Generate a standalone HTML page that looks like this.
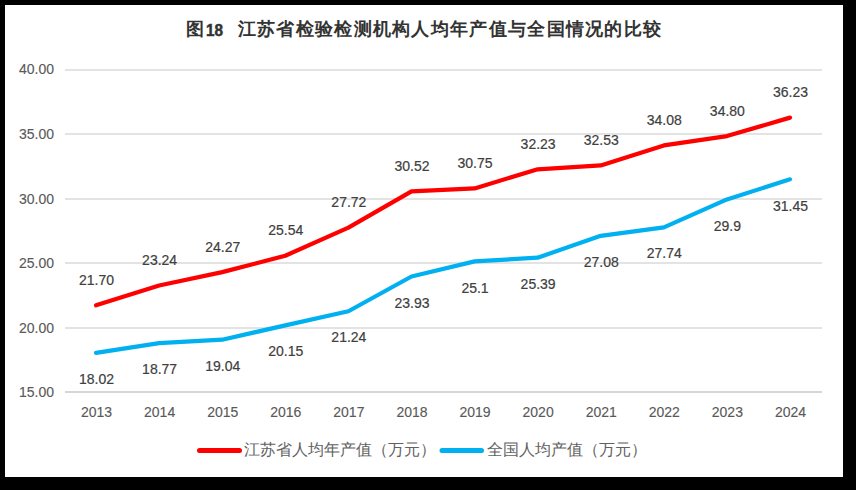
<!DOCTYPE html>
<html><head><meta charset="utf-8"><style>
html,body{margin:0;padding:0;background:#000;}
body{width:856px;height:490px;overflow:hidden;position:relative;}
#card{position:absolute;left:5px;top:5px;width:838px;height:472px;background:#fff;}
svg{position:absolute;left:0;top:0;}
.t{font-family:"Liberation Sans",sans-serif;font-size:14px;fill:#404040;stroke:#404040;stroke-width:0.2px;}
.ax{fill:#595959;stroke:#595959;stroke-width:0.12px;}
.lg{font-family:"Liberation Sans",sans-serif;font-size:16px;fill:#616161;}
.ti{font-family:"Liberation Serif",serif;font-size:18px;font-weight:bold;fill:#333;}
.tn{font-family:"Liberation Sans",sans-serif;font-weight:bold;font-size:16.5px;stroke:#333;stroke-width:0.5px}
</style></head><body>
<div id="card"></div>
<svg width="856" height="490" viewBox="0 0 856 490">
<text x="185.5" y="35" class="ti">图</text><text x="206" y="35.6" class="ti tn" textLength="17" lengthAdjust="spacingAndGlyphs">18</text><text x="237.8" y="35" class="ti" letter-spacing="1.3">江苏省检验检测机构人均年产值与全国情况的比较</text>
<line x1="65" y1="70.00" x2="822" y2="70.00" stroke="#e3e3e3" stroke-width="2"/>
<line x1="65" y1="134.00" x2="822" y2="134.00" stroke="#e3e3e3" stroke-width="2"/>
<line x1="65" y1="199.00" x2="822" y2="199.00" stroke="#e3e3e3" stroke-width="2"/>
<line x1="65" y1="263.00" x2="822" y2="263.00" stroke="#e3e3e3" stroke-width="2"/>
<line x1="65" y1="328.00" x2="822" y2="328.00" stroke="#e3e3e3" stroke-width="2"/>
<line x1="65" y1="392.00" x2="822" y2="392.00" stroke="#d6d6d6" stroke-width="2"/>
<text x="54" y="74.0" text-anchor="end" class="t ax">40.00</text>
<text x="54" y="139.0" text-anchor="end" class="t ax">35.00</text>
<text x="54" y="203.9" text-anchor="end" class="t ax">30.00</text>
<text x="54" y="267.9" text-anchor="end" class="t ax">25.00</text>
<text x="54" y="332.9" text-anchor="end" class="t ax">20.00</text>
<text x="54" y="397.0" text-anchor="end" class="t ax">15.00</text>
<text x="96.54" y="417" text-anchor="middle" class="t ax">2013</text>
<text x="159.62" y="417" text-anchor="middle" class="t ax">2014</text>
<text x="222.71" y="417" text-anchor="middle" class="t ax">2015</text>
<text x="285.79" y="417" text-anchor="middle" class="t ax">2016</text>
<text x="348.88" y="417" text-anchor="middle" class="t ax">2017</text>
<text x="411.96" y="417" text-anchor="middle" class="t ax">2018</text>
<text x="475.04" y="417" text-anchor="middle" class="t ax">2019</text>
<text x="538.12" y="417" text-anchor="middle" class="t ax">2020</text>
<text x="601.21" y="417" text-anchor="middle" class="t ax">2021</text>
<text x="664.29" y="417" text-anchor="middle" class="t ax">2022</text>
<text x="727.38" y="417" text-anchor="middle" class="t ax">2023</text>
<text x="790.46" y="417" text-anchor="middle" class="t ax">2024</text>
<polyline points="96.05,352.88 159.13,343.19 222.23,339.70 285.31,325.36 348.41,311.28 411.50,276.52 474.59,261.41 537.67,257.66 600.76,235.83 663.86,227.30 726.95,199.39 790.04,179.37" fill="none" stroke="#00b0f0" stroke-width="4.2" stroke-linecap="round" stroke-linejoin="round"/>
<polyline points="96.05,305.34 159.13,285.44 222.23,272.13 285.31,255.72 348.41,227.56 411.50,191.38 474.59,188.41 537.67,169.29 600.76,165.41 663.86,145.39 726.95,136.08 790.04,117.61" fill="none" stroke="#ff0000" stroke-width="4.2" stroke-linecap="round" stroke-linejoin="round"/>
<text x="96.54" y="284.80" text-anchor="middle" class="t">21.70</text>
<text x="159.62" y="264.70" text-anchor="middle" class="t">23.24</text>
<text x="222.71" y="252.10" text-anchor="middle" class="t">24.27</text>
<text x="285.79" y="234.90" text-anchor="middle" class="t">25.54</text>
<text x="348.88" y="207.10" text-anchor="middle" class="t">27.72</text>
<text x="411.96" y="170.80" text-anchor="middle" class="t">30.52</text>
<text x="475.04" y="168.00" text-anchor="middle" class="t">30.75</text>
<text x="538.12" y="148.90" text-anchor="middle" class="t">32.23</text>
<text x="601.21" y="145.00" text-anchor="middle" class="t">32.53</text>
<text x="664.29" y="124.70" text-anchor="middle" class="t">34.08</text>
<text x="727.38" y="116.00" text-anchor="middle" class="t">34.80</text>
<text x="790.46" y="97.10" text-anchor="middle" class="t">36.23</text>
<text x="96.54" y="383.80" text-anchor="middle" class="t">18.02</text>
<text x="159.62" y="373.90" text-anchor="middle" class="t">18.77</text>
<text x="222.71" y="370.80" text-anchor="middle" class="t">19.04</text>
<text x="285.79" y="356.00" text-anchor="middle" class="t">20.15</text>
<text x="348.88" y="342.20" text-anchor="middle" class="t">21.24</text>
<text x="411.96" y="307.80" text-anchor="middle" class="t">23.93</text>
<text x="475.04" y="293.00" text-anchor="middle" class="t">25.1</text>
<text x="538.12" y="288.90" text-anchor="middle" class="t">25.39</text>
<text x="601.21" y="266.80" text-anchor="middle" class="t">27.08</text>
<text x="664.29" y="257.70" text-anchor="middle" class="t">27.74</text>
<text x="727.38" y="230.80" text-anchor="middle" class="t">29.9</text>
<text x="790.46" y="210.70" text-anchor="middle" class="t">31.45</text>
<line x1="199.5" y1="450.5" x2="239.5" y2="450.5" stroke="#ff0000" stroke-width="5" stroke-linecap="round"/>
<text x="244.2" y="454.8" class="lg">江苏省人均年产值（万元）</text>
<line x1="442" y1="450.5" x2="481.5" y2="450.5" stroke="#00b0f0" stroke-width="5" stroke-linecap="round"/>
<text x="486.6" y="454.8" class="lg">全国人均产值（万元）</text>
</svg>
</body></html>
